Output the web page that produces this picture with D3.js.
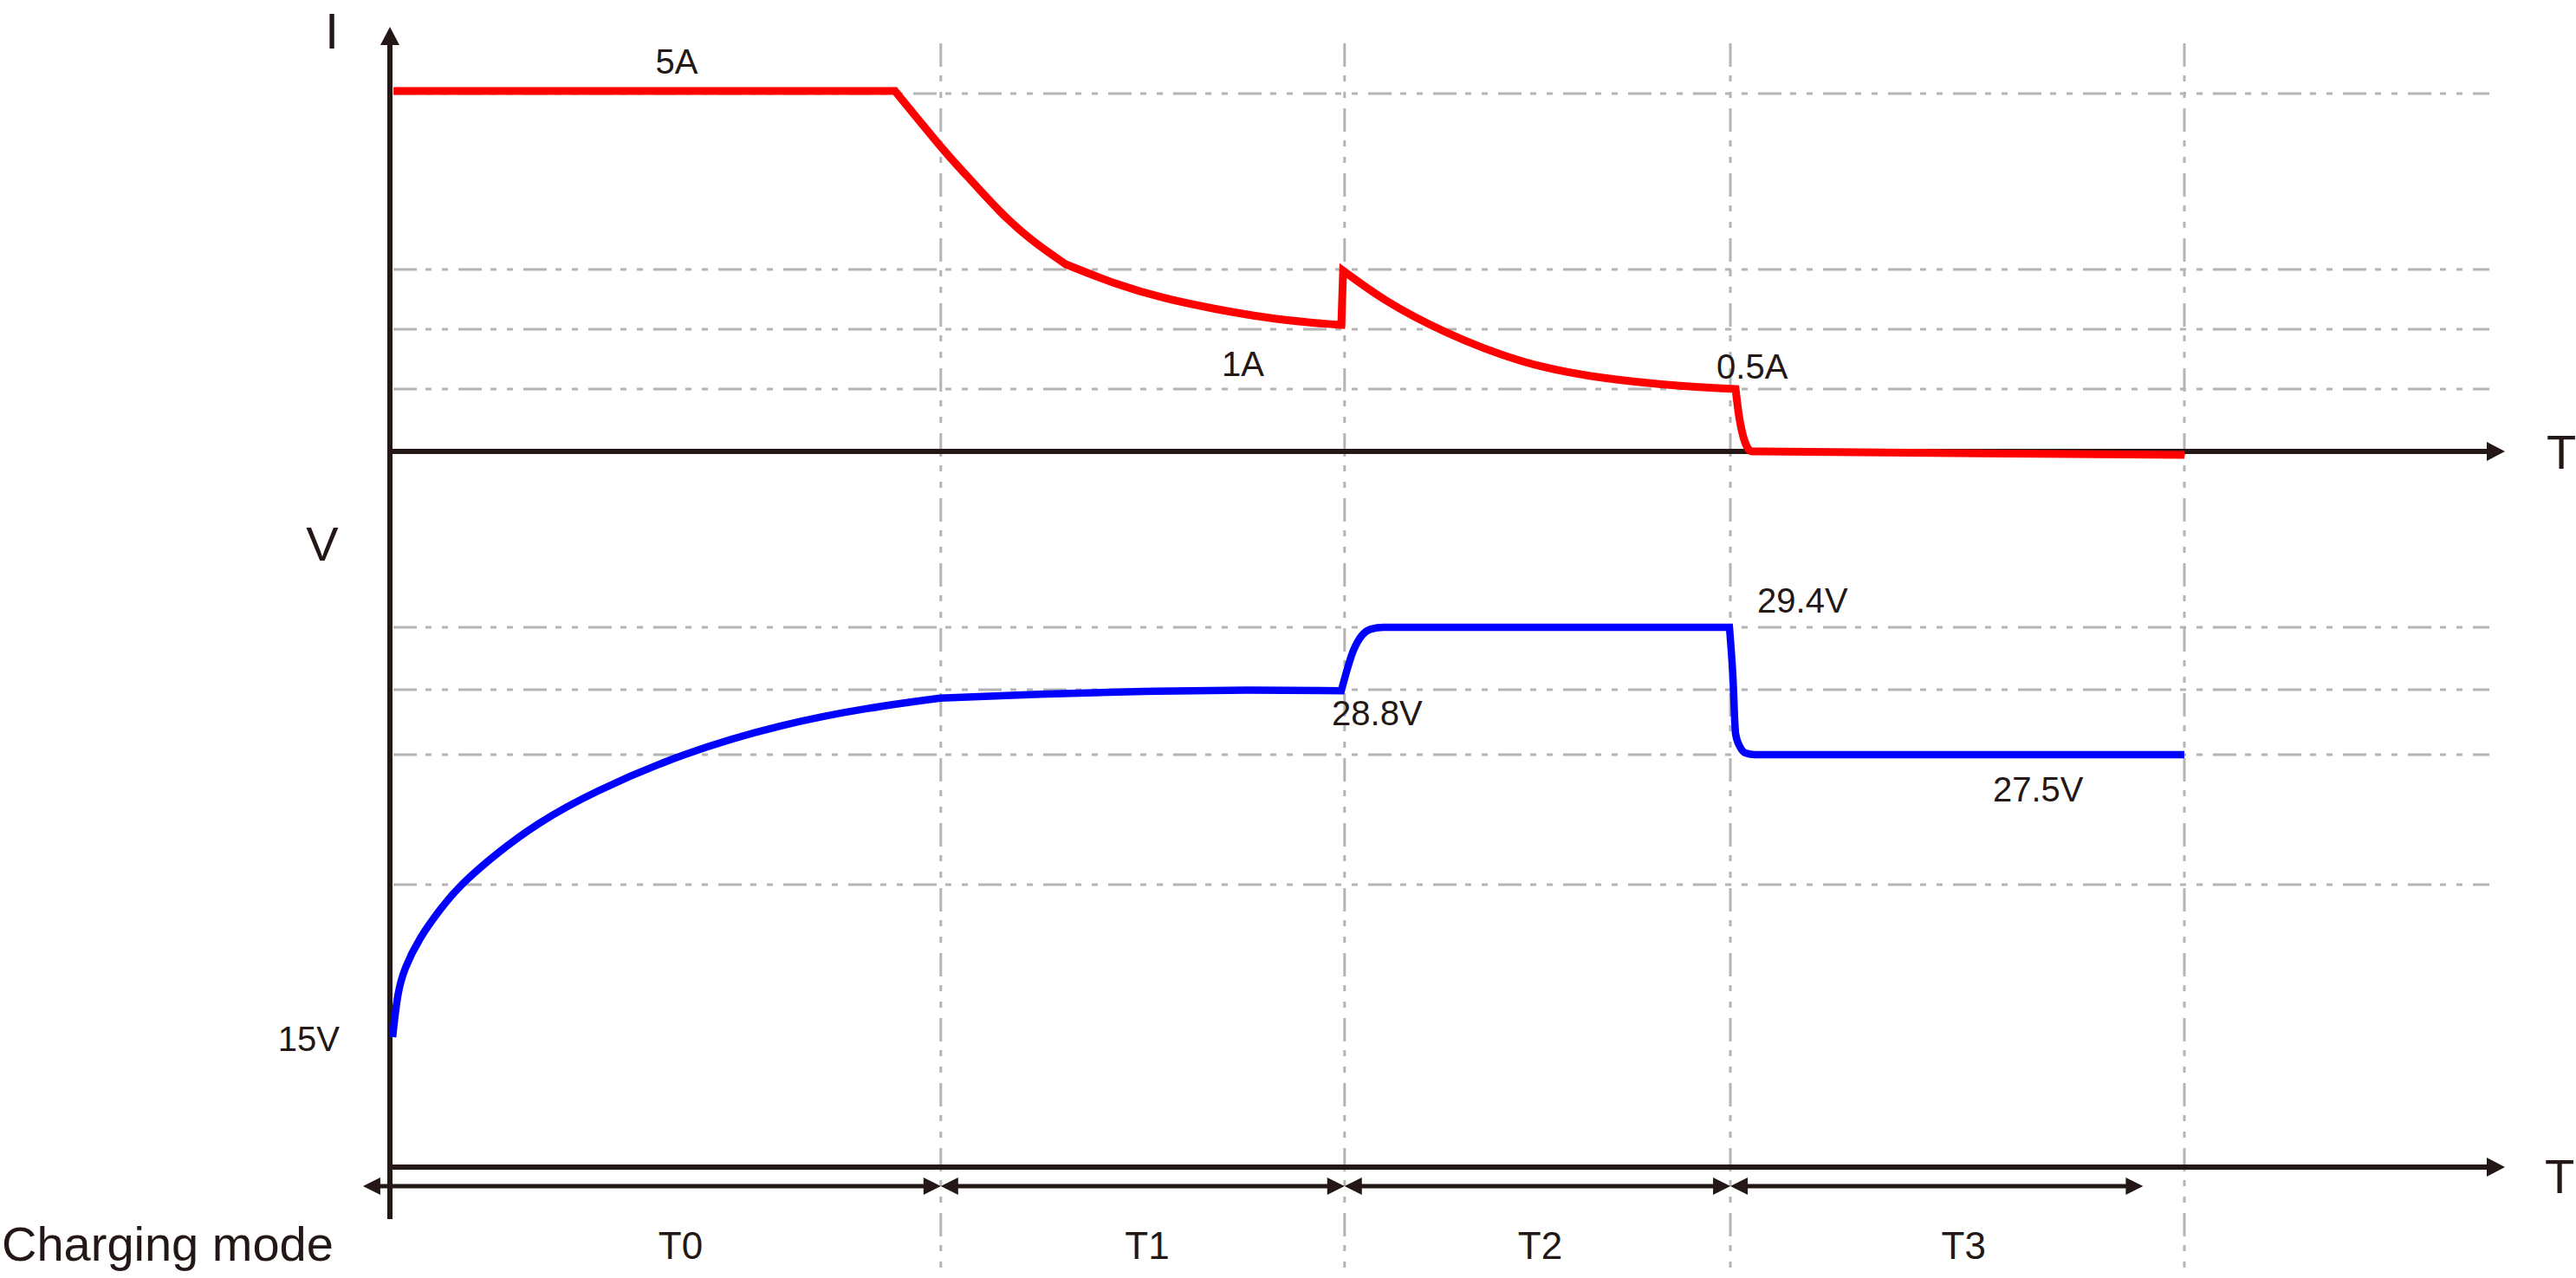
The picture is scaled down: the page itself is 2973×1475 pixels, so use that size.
<!DOCTYPE html>
<html>
<head>
<meta charset="utf-8">
<script src="https://cdn.jsdelivr.net/npm/d3@7"></script>
<style>
html,body{margin:0;padding:0;background:#fff;}
svg{display:block;}
text{font-family:"Liberation Sans",Arial,Helvetica,sans-serif;fill:#231815;}
</style>
</head>
<body>
<svg id="chart" width="2973" height="1475"></svg>
<script>
// ---------- DATA ----------
// charging phases (time axis in arbitrary units)
const phaseNames  = ["T0", "T1", "T2", "T3"];
const phaseEnds   = [3.07, 5.32, 7.47, 10];
const arrowStarts = [-0.15, 3.07, 5.32, 7.47];
const arrowStops  = [3.07, 5.32, 7.47, 9.77];
const phaseLabelT = [1.62, 4.22, 6.41, 8.77];

// current (A) – schematic, non-linear scale levels
const currentLevels = [0, 0.5, 1, 1.5, 5];
const currentGrid   = [5, 1.5, 1, 0.5];
const currentTime = [0.02, 2.815, 3.073, 3.211, 3.395, 3.578, 3.766,
  4.042, 4.317, 4.587, 4.872, 5.118, 5.302, 5.312,
  5.553, 5.881, 6.311, 6.760, 7.175, 7.499,
  7.518, 7.537, 7.561, 7.590, 10];
const currentAmps = [5.05, 5.05, 3.931, 3.379, 2.672, 2.086, 1.603,
  1.384, 1.261, 1.174, 1.101, 1.058, 1.036, 1.49,
  1.239, 0.978, 0.732, 0.594, 0.529, 0.5,
  0.285, 0.146, 0.042, 0.0, -0.028];
const currentCorners = [1, 6, 12, 13, 19];   // indices of sharp corners

// voltage (V) – schematic, non-linear scale levels
const voltageLevels = [15, 24, 27.5, 28.8, 29.4];
const voltageGrid   = [29.4, 28.8, 27.5, 24];
const voltageTime = [0.015, 0.0435, 0.0869, 0.169, 0.280, 0.401, 0.594, 0.835, 1.159,
  1.642, 2.173, 2.656, 3.066, 3.621, 4.201, 4.780, 5.302, 5.370, 5.418, 5.466, 5.538,
  7.465, 7.484, 7.499, 7.523, 7.557, 7.605, 10];
const voltageVolts = [15, 17.40, 19.09, 20.83, 22.52, 24.0, 24.82, 25.66, 26.52,
  27.5, 28.07, 28.42, 28.63, 28.71, 28.765, 28.79, 28.78, 29.18, 29.325, 29.383, 29.4,
  29.4, 28.93, 27.92, 27.66, 27.53, 27.5, 27.5];
const voltageCorners = [12, 16, 21];

// annotation texts with the data point they refer to
const currentLabels = ["5A", "1A", "0.5A"];
const currentLabelT = [1.48, 4.635, 7.393];
const currentLabelV = [5, 1, 0.5];
const voltageLabels = ["15V", "28.8V", "29.4V", "27.5V"];
const voltageLabelT = [0, 5.249, 7.62, 8.933];
const voltageLabelV = [15, 28.8, 29.4, 27.5];

// ---------- LAYOUT ----------
const ink = "#231815";
const gridColor = "#b4b4b4";
const gridDash = "27,10,7,12,7,12";

const svg = d3.select("#chart");
const x  = d3.scaleLinear().domain([0, 10]).range([450, 2521]);
const yI = d3.scaleLinear().domain(currentLevels).range([521, 449, 380, 311, 108]);
const yV = d3.scaleLinear().domain(voltageLevels).range([1197, 1021, 871, 796, 724]);

const xAxisEnd = 2891;
const gridEnd  = 2873;
const bottomAxisY = 1347;
const arrowRowY = 1369;

// ---------- GRID ----------
svg.append("g").selectAll("line").data(phaseEnds).join("line")
  .attr("x1", d => x(d)).attr("x2", d => x(d))
  .attr("y1", 50).attr("y2", 1475)
  .attr("stroke", gridColor).attr("stroke-width", 3)
  .attr("stroke-dasharray", gridDash);

svg.append("g").selectAll("line").data(currentGrid).join("line")
  .attr("x1", x(0) + 4).attr("x2", gridEnd)
  .attr("y1", d => yI(d)).attr("y2", d => yI(d))
  .attr("stroke", gridColor).attr("stroke-width", 3)
  .attr("stroke-dasharray", gridDash);

svg.append("g").selectAll("line").data(voltageGrid).join("line")
  .attr("x1", x(0) + 4).attr("x2", gridEnd)
  .attr("y1", d => yV(d)).attr("y2", d => yV(d))
  .attr("stroke", gridColor).attr("stroke-width", 3)
  .attr("stroke-dasharray", gridDash);

// ---------- AXES ----------
function tri(tipX, tipY, dir, len, half) {
  let pts;
  if (dir === "up") pts = [[tipX, tipY], [tipX - half, tipY + len], [tipX + half, tipY + len]];
  else if (dir === "right") pts = [[tipX, tipY], [tipX - len, tipY - half], [tipX - len, tipY + half]];
  else pts = [[tipX, tipY], [tipX + len, tipY - half], [tipX + len, tipY + half]];
  return "M" + pts.map(p => p.join(",")).join("L") + "Z";
}
const ax = svg.append("g");
ax.append("line").attr("x1", x(0)).attr("x2", x(0)).attr("y1", 1407).attr("y2", 50)
  .attr("stroke", ink).attr("stroke-width", 6);
ax.append("path").attr("d", tri(x(0), 31, "up", 21, 11)).attr("fill", ink);
ax.append("line").attr("x1", x(0)).attr("x2", xAxisEnd - 18).attr("y1", yI(0)).attr("y2", yI(0))
  .attr("stroke", ink).attr("stroke-width", 6);
ax.append("path").attr("d", tri(xAxisEnd, yI(0), "right", 21, 11)).attr("fill", ink);
ax.append("line").attr("x1", x(0)).attr("x2", xAxisEnd - 18).attr("y1", bottomAxisY).attr("y2", bottomAxisY)
  .attr("stroke", ink).attr("stroke-width", 6);
ax.append("path").attr("d", tri(xAxisEnd, bottomAxisY, "right", 21, 11)).attr("fill", ink);

// ---------- SERIES ----------
// pieces between sharp corners; smooth pieces use a natural spline, step pieces a monotone one
function piecewisePath(data, corners, ys, smoothPieces) {
  const cuts = [0, ...corners, data.length - 1];
  let path = "";
  for (let i = 0; i < cuts.length - 1; i++) {
    const seg = data.slice(cuts[i], cuts[i + 1] + 1);
    const curve = (smoothPieces.includes(i) && seg.length > 2) ? d3.curveNatural : d3.curveMonotoneX;
    let p = d3.line().x(d => x(d.t)).y(d => ys(d.v)).curve(curve)(seg);
    if (i > 0) p = p.replace(/^M/, "L");
    path += p;
  }
  return path;
}
const currentData = currentTime.map((t, i) => ({t, v: currentAmps[i]}));
const voltageData = voltageTime.map((t, i) => ({t, v: voltageVolts[i]}));

svg.append("path")
  .attr("d", piecewisePath(currentData, currentCorners, yI, [1, 2, 4]))
  .attr("fill", "none").attr("stroke", "#ff0000").attr("stroke-width", 9)
  .attr("stroke-linejoin", "miter").attr("stroke-miterlimit", 10);

svg.append("path")
  .attr("d", piecewisePath(voltageData, voltageCorners, yV, [0, 1]))
  .attr("fill", "none").attr("stroke", "#0000ff").attr("stroke-width", 8.5)
  .attr("stroke-linejoin", "miter").attr("stroke-miterlimit", 10);

// ---------- PHASE ARROWS ----------
const pa = svg.append("g");
phaseNames.forEach((name, i) => {
  const x1 = x(arrowStarts[i]), x2 = x(arrowStops[i]);
  pa.append("line").attr("x1", x1 + 15).attr("x2", x2 - 15)
    .attr("y1", arrowRowY).attr("y2", arrowRowY)
    .attr("stroke", ink).attr("stroke-width", 5);
  pa.append("path").attr("d", tri(x1, arrowRowY, "left", 20, 10)).attr("fill", ink);
  pa.append("path").attr("d", tri(x2, arrowRowY, "right", 20, 10)).attr("fill", ink);
  pa.append("text").attr("x", x(phaseLabelT[i])).attr("y", 1453)
    .attr("text-anchor", "middle").attr("font-size", 44).text(name);
});

// ---------- TEXT ----------
const tx = svg.append("g");
tx.append("text").attr("x", 383).attr("y", 56).attr("text-anchor", "middle")
  .attr("font-size", 58).text("I");
tx.append("text").attr("x", 372).attr("y", 647).attr("text-anchor", "middle")
  .attr("font-size", 56).text("V");
tx.append("text").attr("x", 2956).attr("y", yI(0) + 20).attr("text-anchor", "middle")
  .attr("font-size", 56).text("T");
tx.append("text").attr("x", 2954).attr("y", bottomAxisY + 30).attr("text-anchor", "middle")
  .attr("font-size", 56).text("T");
tx.append("text").attr("x", 2).attr("y", 1455).attr("font-size", 56).text("Charging mode");

const curOffsets = [[0, -23], [0, 54], [0, -12]];
currentLabels.forEach((s, i) => {
  tx.append("text").attr("x", x(currentLabelT[i]) + curOffsets[i][0])
    .attr("y", yI(currentLabelV[i]) + curOffsets[i][1])
    .attr("font-size", 40).text(s);
});
const voltOffsets = [[-58, 16, "end"], [0, 41, "start"], [0, -17, "start"], [0, 54, "start"]];
voltageLabels.forEach((s, i) => {
  tx.append("text").attr("x", x(voltageLabelT[i]) + voltOffsets[i][0])
    .attr("y", yV(voltageLabelV[i]) + voltOffsets[i][1])
    .attr("text-anchor", voltOffsets[i][2])
    .attr("font-size", 40).text(s);
});
</script>
</body>
</html>
